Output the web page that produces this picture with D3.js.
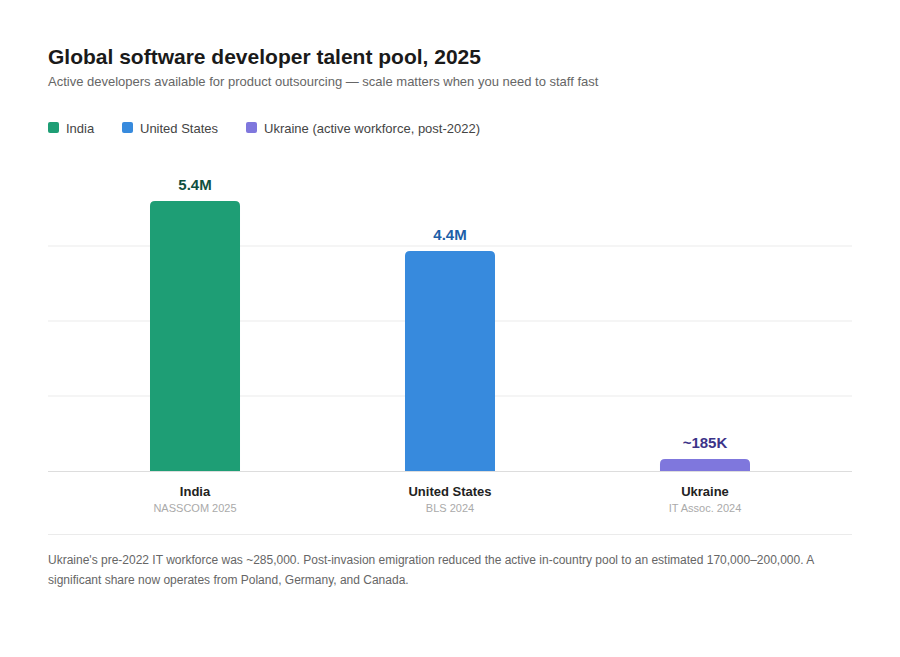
<!DOCTYPE html>
<html>
<head>
<meta charset="utf-8">
<script src="https://cdn.jsdelivr.net/npm/d3@7"></script>
<style>
  body { margin: 0; background: #fff; font-family: "Liberation Sans", Arial, sans-serif; }
</style>
</head>
<body>
<div id="chart"></div>
<script>
// data
var countries = ["India", "United States", "Ukraine"];
var developers = [5.4, 4.4, 0.185]; // millions
var valueLabels = ["5.4M", "4.4M", "~185K"];
var sources = ["NASSCOM 2025", "BLS 2024", "IT Assoc. 2024"];
var legendLabels = ["India", "United States", "Ukraine (active workforce, post-2022)"];
var gridTicks = [1.5, 3, 4.5];

var barColors = ["#1e9e75", "#378add", "#7f77dd"];
var labelColors = ["#0f4f40", "#1d5fa8", "#3c3489"];

var width = 900, height = 657;
var left = 48, right = 852, baseline = 471;

var svg = d3.select("#chart").append("svg")
    .attr("width", width)
    .attr("height", height);

// title block
svg.append("text")
    .attr("x", left).attr("y", 64)
    .attr("font-size", 21).attr("font-weight", "bold")
    .attr("fill", "#1a1a1a")
    .text("Global software developer talent pool, 2025");

svg.append("text")
    .attr("x", left).attr("y", 86)
    .attr("font-size", 13).attr("fill", "#666")
    .text("Active developers available for product outsourcing \u2014 scale matters when you need to staff fast");

// legend
var legendX = [48, 122, 246];
var legend = svg.append("g").selectAll("g")
    .data(legendLabels)
    .enter().append("g")
    .attr("transform", function (d, i) { return "translate(" + legendX[i] + ",122)"; });
legend.append("rect")
    .attr("width", 11).attr("height", 11).attr("rx", 2)
    .attr("fill", function (d, i) { return barColors[i]; });
legend.append("text")
    .attr("x", 18).attr("y", 10.5)
    .attr("font-size", 13).attr("fill", "#444")
    .text(function (d) { return d; });

// scales
var x = d3.scaleBand()
    .domain(countries)
    .range([left, right])
    .paddingInner(0.647)
    .paddingOuter(0.4);

var y = d3.scaleLinear()
    .domain([0, 6])
    .range([baseline, 171]);

// gridlines
svg.append("g").selectAll("line")
    .data(gridTicks)
    .enter().append("line")
    .attr("x1", left).attr("x2", right)
    .attr("y1", function (d) { return y(d); })
    .attr("y2", function (d) { return y(d); })
    .attr("stroke", "#ebebeb").attr("stroke-width", 1);

// bars with rounded top corners
function barPath(x0, y0, w, h, r) {
    r = Math.min(r, h / 2, w / 2);
    return "M" + x0 + "," + (y0 + h) +
        "V" + (y0 + r) +
        "Q" + x0 + "," + y0 + " " + (x0 + r) + "," + y0 +
        "H" + (x0 + w - r) +
        "Q" + (x0 + w) + "," + y0 + " " + (x0 + w) + "," + (y0 + r) +
        "V" + (y0 + h) + "Z";
}

var minBar = 12;
function barTop(d) {
    return Math.min(y(d), baseline - minBar);
}

svg.append("g").selectAll("path")
    .data(developers)
    .enter().append("path")
    .attr("fill", function (d, i) { return barColors[i]; })
    .attr("d", function (d, i) {
        var t = barTop(d);
        return barPath(x(countries[i]), t, x.bandwidth(), baseline - t, 5);
    });

// value labels
svg.append("g").selectAll("text")
    .data(developers)
    .enter().append("text")
    .attr("x", function (d, i) { return x(countries[i]) + x.bandwidth() / 2; })
    .attr("y", function (d) { return barTop(d) - 11; })
    .attr("text-anchor", "middle")
    .attr("font-size", 15).attr("font-weight", "bold")
    .attr("fill", function (d, i) { return labelColors[i]; })
    .text(function (d, i) { return valueLabels[i]; });

// baseline
svg.append("line")
    .attr("x1", left).attr("x2", right)
    .attr("y1", baseline + 0.5).attr("y2", baseline + 0.5)
    .attr("stroke", "#ddd");

// category labels
var cats = svg.append("g").selectAll("g")
    .data(countries)
    .enter().append("g")
    .attr("transform", function (d) { return "translate(" + (x(d) + x.bandwidth() / 2) + ",0)"; });
cats.append("text")
    .attr("y", 496).attr("text-anchor", "middle")
    .attr("font-size", 13).attr("font-weight", "bold").attr("fill", "#222")
    .text(function (d) { return d; });
cats.append("text")
    .attr("y", 512).attr("text-anchor", "middle")
    .attr("font-size", 11).attr("fill", "#aaa")
    .text(function (d, i) { return sources[i]; });

// separator
svg.append("line")
    .attr("x1", left).attr("x2", right)
    .attr("y1", 534.5).attr("y2", 534.5)
    .attr("stroke", "#ebebeb");

// footnote
var note = svg.append("text")
    .attr("x", left).attr("y", 564)
    .attr("font-size", 12).attr("fill", "#666");
note.append("tspan").attr("x", left)
    .text("Ukraine's pre-2022 IT workforce was ~285,000. Post-invasion emigration reduced the active in-country pool to an estimated 170,000\u2013200,000. A");
note.append("tspan").attr("x", left).attr("dy", 19.5)
    .text("significant share now operates from Poland, Germany, and Canada.");
</script>
</body>
</html>
